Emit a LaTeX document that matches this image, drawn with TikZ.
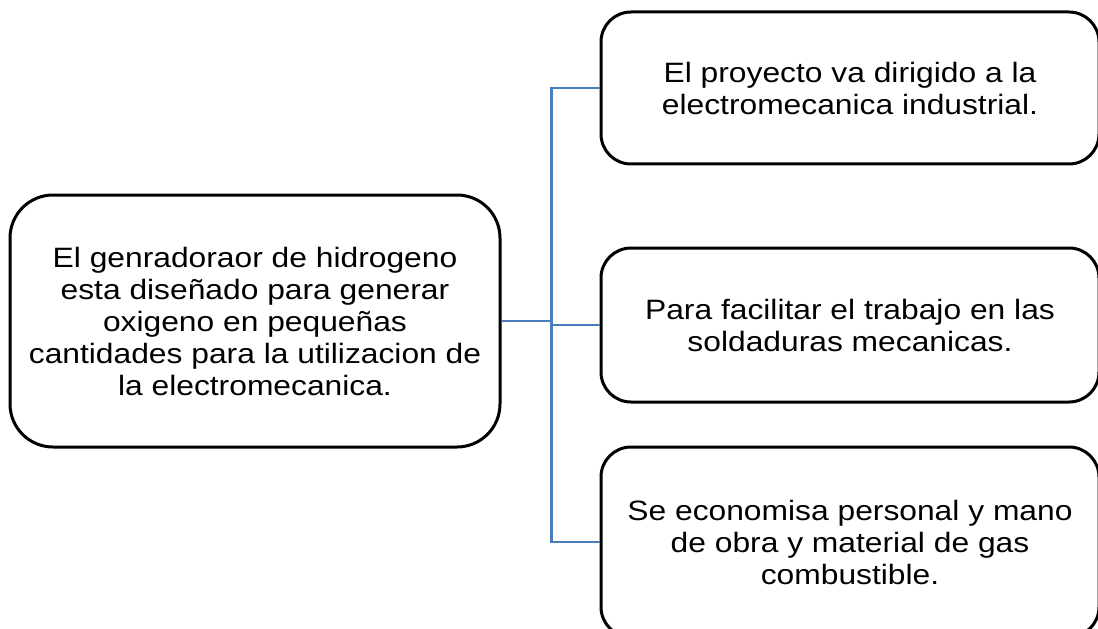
\documentclass[tikz,border=0pt]{standalone}
\usepackage{fontspec}
\setmainfont{Liberation Sans}[FakeStretch=1.135]
\definecolor{linkblue}{RGB}{74,126,187}
\tikzset{
	idea/.style={draw,line width=1.5pt,align=center,inner sep=0pt,font=\fontsize{14}{16}\selectfont},
	bigidea/.style={idea,rounded corners=21.5pt,minimum width=245pt,minimum height=126pt},
	smallidea/.style={idea,rounded corners=15pt,minimum width=249pt},
	link/.style={draw=linkblue,line width=1.2pt}
}
\begin{document}
\begin{tikzpicture}[x=1pt,y=1pt]
		\useasboundingbox (0,0) rectangle (549,314);
		\clip (0,0) rectangle (549,314);
		\node[bigidea] (gen) at (127.5,153.5) {El genradoraor de hidrogeno\\esta diseñado para generar\\oxigeno en pequeñas\\cantidades para la utilizacion de\\la electromecanica.};
		\node[smallidea,minimum height=76pt] (proy) at (425,270) {El proyecto va dirigido a la\\electromecanica industrial.};
		\node[smallidea,minimum height=77pt] (sold) at (425,151.5) {Para facilitar el trabajo en las\\soldaduras mecanicas.};
		\node[smallidea,minimum height=95pt] (econ) at (425,43) {Se economisa personal y mano\\de obra y material de gas\\combustible.};
		\draw[link] (gen.east) -- ++(25,0) |- (proy.west);
		\draw[link] (gen.east) -- ++(25,0) |- (sold.west);
		\draw[link] (gen.east) -- ++(25,0) |- (econ.west);
	\end{tikzpicture}
\end{document}
